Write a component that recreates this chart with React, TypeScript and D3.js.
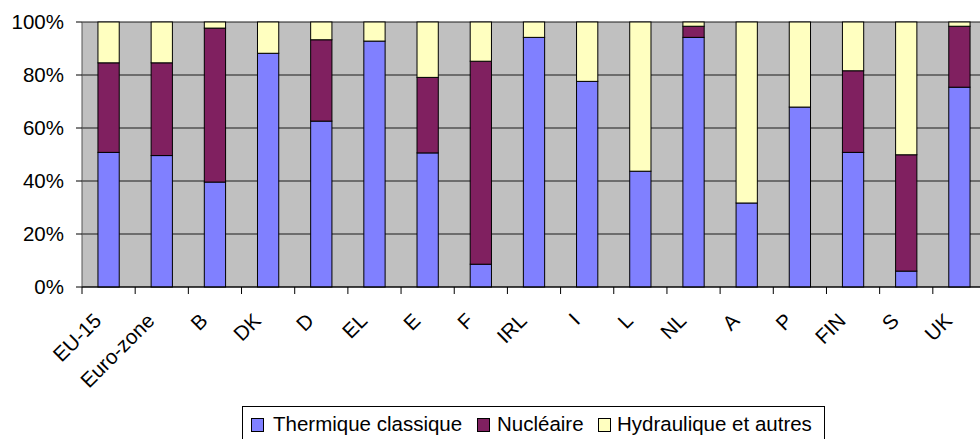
import * as d3 from "d3"

const pays = ["EU-15", "Euro-zone", "B", "DK", "D", "EL", "E", "F", "IRL", "I", "L", "NL", "A", "P", "FIN", "S", "UK"]
const thermique = [50.8, 49.6, 39.6, 88.2, 62.6, 92.8, 50.6, 8.6, 94.2, 77.6, 43.7, 94.2, 31.7, 67.9, 50.8, 6.0, 75.4]
const nucleaire = [33.8, 35.0, 58.1, 0, 30.7, 0, 28.5, 76.6, 0, 0, 0, 4.2, 0, 0, 30.8, 43.9, 23.0]
const hydraulique = [15.4, 15.4, 2.3, 11.8, 6.7, 7.2, 20.9, 14.8, 5.8, 22.4, 56.3, 1.6, 68.3, 32.1, 18.4, 50.1, 1.6]
const series = ["Thermique classique", "Nucléaire", "Hydraulique et autres"]
const couleurs = ["#8080FF", "#802060", "#FFFFC0"]
const yTicks = [0, 20, 40, 60, 80, 100]

const W = 980
const H = 439
const font = "'Liberation Sans', Arial, sans-serif"

export default function App() {
  const x = d3.scaleBand<string>().domain(pays).range([82, 986]).paddingInner(0.6).paddingOuter(0.3)
  const y = d3.scaleLinear().domain([0, 100]).range([287, 22])

  const rows = pays.map((p, i) => ({ pays: p, t: thermique[i], n: nucleaire[i], h: hydraulique[i] }))
  const stack = d3.stack<any>().keys(["t", "n", "h"])(rows)

  const step = x.step()
  const x0 = 82
  const bandEdges = d3.range(pays.length + 1).map((i) => x0 + i * step)

  // legende
  const legendItems = [
    { sw: 251, tx: 273 },
    { sw: 477, tx: 497 },
    { sw: 598, tx: 617 },
  ]

  return (
    <div style={{ position: "absolute", left: 0, top: 0 }}>
      <svg width={W} height={H} style={{ display: "block" }}>
        <rect x={0} y={0} width={W} height={H} fill="#fff" />
        {/* fond du graphique */}
        <rect x={82} y={22} width={986 - 82} height={265} fill="#C0C0C0" />
        {yTicks.map((t) => (
          <line key={t} x1={82} x2={986} y1={y(t)} y2={y(t)} stroke="#1a1a1a" strokeWidth={1} />
        ))}
        <line x1={82} x2={82} y1={22} y2={287} stroke="#555" strokeWidth={1} />

        {/* barres */}
        {stack.map((s, si) =>
          s.map((d, i) =>
            d[1] - d[0] > 0 ? (
              <rect
                key={si + "-" + i}
                x={x(pays[i])!}
                y={y(d[1])}
                width={x.bandwidth()}
                height={y(d[0]) - y(d[1])}
                fill={couleurs[si]}
                stroke="#000"
                strokeWidth={1}
              />
            ) : null,
          ),
        )}

        {/* axe Y */}
        {yTicks.map((t) => (
          <g key={"y" + t}>
            <line x1={76} x2={82} y1={y(t)} y2={y(t)} stroke="#000" />
            <text x={64} y={y(t) + 7} textAnchor="end" fontFamily={font} fontSize={20.5} fill="#000">
              {t}%
            </text>
          </g>
        ))}

        {/* axe X */}
        <line x1={82} x2={986} y1={287} y2={287} stroke="#000" />
        {bandEdges.map((bx, i) => (
          <line key={"t" + i} x1={bx} x2={bx} y1={287} y2={294} stroke="#000" />
        ))}
        {pays.map((p) => {
          const cx = x(p)! + x.bandwidth() / 2 - 6
          return (
            <text
              key={"l" + p}
              transform={`translate(${cx},322) rotate(-45)`}
              textAnchor="end"
              fontFamily={font}
              fontSize={20.5}
              fill="#000"
            >
              {p}
            </text>
          )
        })}

        {/* legende */}
        <rect x={242.5} y={406.5} width={582} height={50} fill="#fff" stroke="#000" strokeWidth={1} />
        {series.map((s, i) => (
          <g key={"lg" + s}>
            <rect x={legendItems[i].sw + 0.5} y={418.5} width={12} height={13} fill={couleurs[i]} stroke="#000" />
            <text x={legendItems[i].tx} y={431} fontFamily={font} fontSize={20.5} fill="#000">
              {s}
            </text>
          </g>
        ))}
      </svg>
    </div>
  )
}
